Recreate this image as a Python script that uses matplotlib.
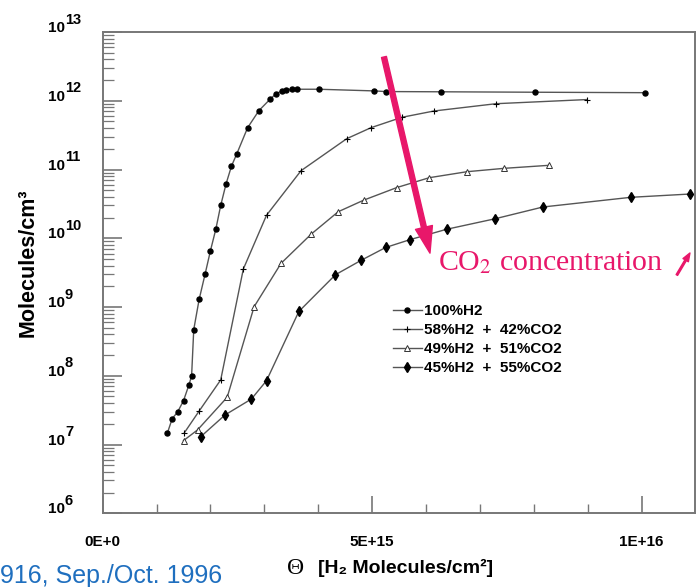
import numpy as np
import matplotlib
matplotlib.use('Agg')
import matplotlib.pyplot as plt
from matplotlib import font_manager
from matplotlib.ticker import FixedLocator, MultipleLocator, LogLocator, NullFormatter
from matplotlib.transforms import blended_transform_factory, ScaledTranslation

# values: x = H2 molecules/cm^2, y = molecules/cm^3
h2_100_x = [1.20e15, 1.29e15, 1.39e15, 1.50e15, 1.60e15, 1.65e15, 1.69e15, 1.79e15,
            1.90e15, 2.00e15, 2.10e15, 2.19e15, 2.29e15, 2.39e15, 2.49e15, 2.69e15,
            2.90e15, 3.11e15, 3.21e15, 3.33e15, 3.41e15, 3.52e15, 3.61e15, 4.01e15,
            5.04e15, 5.25e15, 6.27e15, 8.02e15, 1.007e16]
h2_100_y = [1.46e7, 2.38e7, 2.97e7, 4.34e7, 7.34e7, 9.9e7, 4.7e8, 1.29e9,
            3.0e9, 6.6e9, 1.36e10, 3.0e10, 6.2e10, 1.12e11, 1.70e11, 4.06e11,
            7.2e11, 1.06e12, 1.25e12, 1.40e12, 1.45e12, 1.47e12, 1.47e12, 1.47e12,
            1.39e12, 1.36e12, 1.35e12, 1.33e12, 1.31e12]

h2_58_x = [1.51e15, 1.79e15, 2.19e15, 2.61e15, 3.04e15, 3.68e15, 4.53e15, 4.98e15,
           5.55e15, 6.15e15, 7.30e15, 8.98e15]
h2_58_y = [1.46e7, 3.07e7, 8.7e7, 3.57e9, 2.16e10, 9.6e10, 2.81e11, 4.06e11,
           5.74e11, 7.1e11, 9.06e11, 1.04e12]

h2_49_x = [1.50e15, 1.76e15, 2.31e15, 2.81e15, 3.31e15, 3.87e15, 4.37e15, 4.85e15,
           5.46e15, 6.06e15, 6.76e15, 7.45e15, 8.28e15]
h2_49_y = [1.14e7, 1.63e7, 4.86e7, 1.01e9, 4.32e9, 1.15e10, 2.43e10, 3.60e10,
           5.47e10, 7.60e10, 9.29e10, 1.04e11, 1.15e11]

h2_45_x = [1.82e15, 2.27e15, 2.76e15, 3.04e15, 3.64e15, 4.32e15, 4.79e15, 5.25e15,
           5.70e15, 6.38e15, 7.28e15, 8.17e15, 9.80e15, 1.090e16]
h2_45_y = [1.30e7, 2.69e7, 4.59e7, 8.48e7, 8.61e8, 2.95e9, 4.75e9, 7.34e9,
           9.53e9, 1.35e10, 1.92e10, 2.85e10, 3.94e10, 4.40e10]

labels = ['100%H2', '58%H2  +  42%CO2', '49%H2  +  51%CO2', '45%H2  +  55%CO2']
x_ticks = [0, 5e15, 1e16]
x_tick_labels = ['0E+0', '5E+15', '1E+16']
decades = [6, 7, 8, 9, 10, 11, 12, 13]

names = {f.name for f in font_manager.fontManager.ttflist}
narrow = 'Liberation Sans Narrow' if 'Liberation Sans Narrow' in names else 'Liberation Sans'
sans = [narrow, 'Liberation Sans', 'DejaVu Sans']
serif = ['Liberation Serif', 'DejaVu Serif']
plt.rcParams['mathtext.fontset'] = 'stix'

pink = '#e8176a'
line_c = '#555555'
frame_c = '#777777'

fig = plt.figure(figsize=(6.97, 5.87), dpi=100)
ax = fig.add_axes([0.1473, 0.1256, 0.8498, 0.8199])

ax.plot(h2_100_x, h2_100_y, color=line_c, lw=1.0, marker='o', ms=3.6,
        mfc='black', mec='black', label=labels[0])
ax.plot(h2_58_x, h2_58_y, color=line_c, lw=1.0, marker='+', ms=5,
        mec='black', mew=0.8, label=labels[1])
ax.plot(h2_49_x, h2_49_y, color=line_c, lw=1.0, marker='^', ms=4,
        mfc='white', mec='#333333', mew=0.7, label=labels[2])
ax.plot(h2_45_x, h2_45_y, color=line_c, lw=1.0, marker='d', ms=4.6,
        mfc='black', mec='black', label=labels[3])

ax.set_yscale('log')
ax.set_xlim(0, 1.099e16)
ax.set_ylim(1e6, 1e13)

ax.xaxis.set_major_locator(FixedLocator(x_ticks))
ax.xaxis.set_minor_locator(MultipleLocator(1e15))
ax.set_xticklabels(x_tick_labels, family=sans, fontweight='bold', fontsize=11)
ax.yaxis.set_major_locator(LogLocator(base=10, numticks=20))
ax.yaxis.set_minor_locator(LogLocator(base=10, subs=np.arange(2, 10), numticks=20))
ax.yaxis.set_major_formatter(NullFormatter())
ax.yaxis.set_minor_formatter(NullFormatter())

ax.tick_params(axis='x', which='major', direction='in', length=12.5, width=1.2,
               color=frame_c, pad=15.5, top=False)
ax.tick_params(axis='x', which='minor', direction='in', length=6.5, width=1.0,
               color=frame_c, top=False)
ax.tick_params(axis='y', which='major', direction='in', length=14, width=1.2,
               color=frame_c, right=False)
ax.tick_params(axis='y', which='minor', direction='in', length=8, width=0.9,
               color=frame_c, right=False)
for s in ax.spines.values():
    s.set_color(frame_c)
    s.set_linewidth(1.4)

# y tick labels: "10" with a near full-size exponent, sitting just above the tick
tr = blended_transform_factory(ax.transAxes, ax.transData)
for d in decades:
    ax.text(-0.0637, 10.0 ** d, '10', transform=tr, ha='right', va='baseline',
            family=sans, fontweight='bold', fontsize=11, clip_on=False)
    ax.text(-0.0637, 10.0 ** d, str(d),
            transform=tr + ScaledTranslation(0, 6 / 72, fig.dpi_scale_trans),
            ha='left', va='baseline', family=sans, fontweight='bold',
            fontsize=10.5, clip_on=False)

ax.set_ylabel('Molecules/cm³', family=sans, fontweight='bold', fontsize=15.5)
ax.yaxis.set_label_coords(-0.108, 0.52)

ax.set_xlabel('[H₂ Molecules/cm²]', family=sans, fontweight='bold', fontsize=14)
ax.xaxis.set_label_coords(0.512, -0.095)
ax.text(0.326, -0.1157, 'Θ', transform=ax.transAxes, ha='center', va='center',
        family=serif, fontsize=17, clip_on=False)

leg = ax.legend(loc='upper left', bbox_to_anchor=(0.49, 0.435), frameon=False,
                borderpad=0, borderaxespad=0, handlelength=1.9, handletextpad=0.15,
                labelspacing=0.34, prop={'family': sans, 'weight': 'bold', 'size': 11})

# pink annotation
ax.annotate('', xy=(0.5526, 0.5405), xytext=(0.4749, 0.9481),
            xycoords='axes fraction', textcoords='axes fraction',
            arrowprops=dict(color=pink, width=3.6, headwidth=12.5, headlength=19, shrink=0))
ax.text(0.5666, 0.52, r'CO$_\mathrm{2}$ concentration', transform=ax.transAxes,
        ha='left', va='center', color=pink, family=serif, fontsize=21.5)
ax.annotate('', xy=(0.9915, 0.5408), xytext=(0.9694, 0.4951),
            xycoords='axes fraction', textcoords='axes fraction',
            arrowprops=dict(color=pink, width=1.2, headwidth=4.5, headlength=6, shrink=0))

fig.text(0.0, 0.006, '916, Sep./Oct. 1996', ha='left', va='baseline',
         color='#1f6fbf', family=['Liberation Sans', 'DejaVu Sans'], fontsize=18)

fig.savefig('out.png', dpi=100)
